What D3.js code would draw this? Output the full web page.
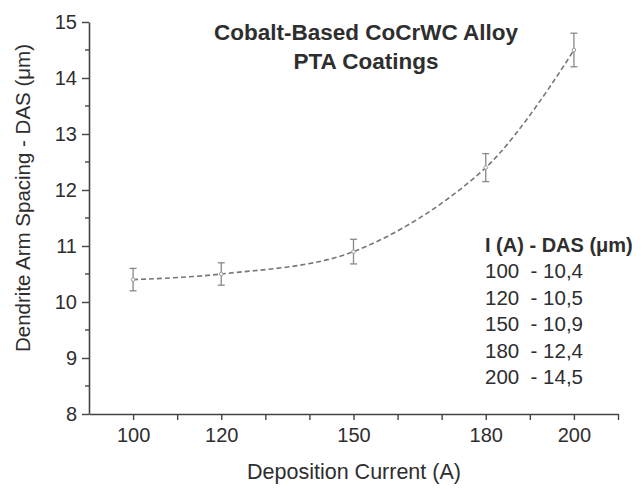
<!DOCTYPE html>
<html>
<head>
<meta charset="utf-8">
<script src="https://cdn.jsdelivr.net/npm/d3@7"></script>
<style>
  html, body { margin: 0; padding: 0; background: #fff; }
  svg { display: block; font-family: "Liberation Sans", Arial, Helvetica, sans-serif; }
</style>
</head>
<body>
<svg id="chart" width="643" height="489"></svg>
<script>
// ---- data ----
const currents = [100, 120, 150, 180, 200];
const das = [10.4, 10.5, 10.9, 12.4, 14.5];
const errors = [0.2, 0.2, 0.22, 0.25, 0.3];
const xTickValues = [90, 100, 110, 120, 130, 140, 150, 160, 170, 180, 190, 200, 210];
const xTickLabels = [100, 120, 150, 180, 200];
const yTickValues = [8, 9, 10, 11, 12, 13, 14, 15];
const yMinorTicks = [8.5, 9.5, 10.5, 11.5, 12.5, 13.5, 14.5];
const titleLines = ["Cobalt-Based CoCrWC Alloy", "PTA Coatings"];
const legendHeader = "I (A) - DAS (\u03bcm)";
const legendRows = ["100  - 10,4", "120  - 10,5", "150  - 10,9", "180  - 12,4", "200  - 14,5"];

const svg = d3.select("#chart");
const axisColor = "#444";
const textColor = "#2e2e2e";
const lineColor = "#777";

const x = d3.scaleLinear().domain([90, 210]).range([89, 618]);
const y = d3.scaleLinear().domain([8, 15]).range([414, 22]);

// X axis
const xAxis = svg.append("g").attr("transform", `translate(0,${y(8)})`)
  .call(d3.axisBottom(x).tickValues(xTickValues)
    .tickSize(6).tickSizeOuter(0)
    .tickFormat(d => xTickLabels.includes(d) ? d : ""));
xAxis.select(".domain").attr("stroke", axisColor).attr("stroke-width", 1.6);
xAxis.selectAll(".tick line").attr("stroke", axisColor).attr("stroke-width", 1.4)
  .attr("y2", d => (d === 90 ? 0 : 6));
xAxis.selectAll(".tick text").attr("fill", textColor).attr("font-size", 20)
  .attr("y", 14).attr("dy", "0.71em");

// Y axis
const yAxis = svg.append("g").attr("transform", `translate(${x(90)},0)`)
  .call(d3.axisLeft(y).tickValues(yTickValues).tickFormat(d3.format("d"))
    .tickSize(7).tickSizeOuter(0).tickPadding(5));
yAxis.select(".domain").attr("stroke", axisColor).attr("stroke-width", 1.6);
yAxis.selectAll(".tick line").attr("stroke", axisColor).attr("stroke-width", 1.4);
yAxis.selectAll(".tick text").attr("fill", textColor).attr("font-size", 20);
yAxis.selectAll(".minor").data(yMinorTicks).enter().append("line")
  .attr("class", "minor")
  .attr("x1", -4).attr("x2", 0)
  .attr("y1", d => y(d)).attr("y2", d => y(d))
  .attr("stroke", axisColor).attr("stroke-width", 1.4);

// axis titles
svg.append("text")
  .attr("x", 354).attr("y", 479)
  .attr("text-anchor", "middle").attr("font-size", 21.5).attr("fill", textColor)
  .text("Deposition Current (A)");
svg.append("text")
  .attr("transform", `translate(30,198) rotate(-90)`)
  .attr("text-anchor", "middle").attr("font-size", 20.5).attr("fill", textColor)
  .text("Dendrite Arm Spacing - DAS (\u03bcm)");

// title
svg.selectAll(".title").data(titleLines).enter().append("text")
  .attr("class", "title")
  .attr("x", 366).attr("y", (d, i) => 40 + i * 29)
  .attr("text-anchor", "middle").attr("font-size", 22.5).attr("font-weight", "bold")
  .attr("fill", textColor)
  .text(d => d);

// data
const pts = currents.map((c, i) => ({ c, v: das[i], e: errors[i] }));

const line = d3.line().x(d => x(d.c)).y(d => y(d.v)).curve(d3.curveCatmullRom.alpha(0.5));
svg.append("path").datum(pts)
  .attr("d", line).attr("fill", "none")
  .attr("stroke", lineColor).attr("stroke-width", 1.6)
  .attr("stroke-dasharray", "5,3");

const eb = svg.selectAll(".err").data(pts).enter().append("g").attr("class", "err")
  .attr("stroke", "#888").attr("stroke-width", 1.3);
eb.append("line").attr("x1", d => x(d.c)).attr("x2", d => x(d.c))
  .attr("y1", d => y(d.v - d.e)).attr("y2", d => y(d.v + d.e));
eb.append("line").attr("x1", d => x(d.c) - 3.5).attr("x2", d => x(d.c) + 3.5)
  .attr("y1", d => y(d.v + d.e)).attr("y2", d => y(d.v + d.e));
eb.append("line").attr("x1", d => x(d.c) - 3.5).attr("x2", d => x(d.c) + 3.5)
  .attr("y1", d => y(d.v - d.e)).attr("y2", d => y(d.v - d.e));

svg.selectAll(".pt").data(pts).enter().append("circle")
  .attr("class", "pt")
  .attr("cx", d => x(d.c)).attr("cy", d => y(d.v)).attr("r", 1.8)
  .attr("fill", "#fff").attr("stroke", "#999").attr("stroke-width", 1);

// legend text
svg.append("text").attr("x", 485).attr("y", 252)
  .attr("font-size", 20).attr("font-weight", "bold").attr("fill", textColor)
  .text(legendHeader);
svg.selectAll(".leg").data(legendRows).enter().append("text")
  .attr("class", "leg")
  .attr("x", 485).attr("y", (d, i) => 278 + i * 26.5)
  .attr("font-size", 20.5).attr("fill", textColor)
  .attr("xml:space", "preserve").style("white-space", "pre")
  .text(d => d);
</script>
</body>
</html>
